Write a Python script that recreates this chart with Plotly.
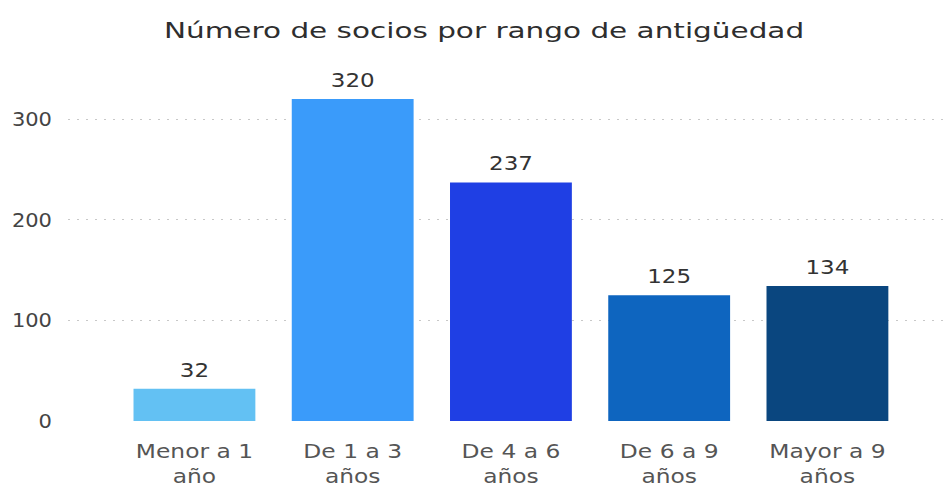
import plotly.graph_objects as go

categories = ["Menor a 1<br>año", "De 1 a 3<br>años", "De 4 a 6<br>años", "De 6 a 9<br>años", "Mayor a 9<br>años"]
socios = [32, 320, 237, 125, 134]
bar_colors = ["#63C1F3", "#3A9BFA", "#1F3FE4", "#0E65BF", "#0A467F"]
y_ticks = [0, 100, 200, 300]

FONT = "DejaVu Sans, sans-serif"

fig = go.Figure(
    go.Bar(
        x=list(range(len(categories))),
        y=socios,
        marker=dict(color=bar_colors, line=dict(width=0)),
        width=0.77,
        text=[str(v) for v in socios],
        textposition="outside",
        textfont=dict(family=FONT, size=20, color="#333333"),
        cliponaxis=False,
    )
)

fig.update_layout(
    width=945,
    height=486,
    paper_bgcolor="white",
    plot_bgcolor="white",
    margin=dict(l=68, r=0, t=70, b=65),
    showlegend=False,
    title=dict(
        text="Número de socios por rango de antigüedad",
        x=0.5122,
        xanchor="center",
        y=0.937,
        yanchor="middle",
        font=dict(family=FONT, size=22, color="#2E2E2E"),
    ),
    xaxis=dict(
        range=[-0.799, 4.743],
        tickmode="array",
        tickvals=list(range(len(categories))),
        ticktext=categories,
        showgrid=False,
        zeroline=False,
        showline=False,
        ticks="",
        ticklabelstandoff=17,
        tickfont=dict(family=FONT, size=19, color="#555555"),
    ),
    yaxis=dict(
        range=[0, 348.7],
        tickvals=y_ticks,
        showgrid=True,
        gridcolor="#C8C8C8",
        griddash="2px,7px",
        gridwidth=1,
        zeroline=False,
        showline=False,
        ticks="",
        ticklabelstandoff=15,
        tickfont=dict(family=FONT, size=20, color="#444444"),
    ),
)

# Stretch the lettering horizontally (glyphs and spacing together)
# and lift the value labels a little further above their bars
stretch_js = """
var gd = document.getElementById('{plot_id}');
function stretch(sel, factor) {
  gd.querySelectorAll(sel).forEach(function (t) {
    var parts = t.querySelectorAll('tspan.line');
    if (!parts.length) { parts = [t]; }
    parts.forEach(function (p) {
      var w = p.getComputedTextLength();
      p.setAttribute('lengthAdjust', 'spacingAndGlyphs');
      p.setAttribute('textLength', (w * factor).toFixed(1));
    });
  });
}
stretch('.gtitle', 1.34);
stretch('.xtick text', 1.23);
stretch('.ytick text', 1.05);
stretch('.bartext', 1.15);
gd.querySelectorAll('.bartext').forEach(function (t) {
  var y = parseFloat(t.getAttribute('y') || '0');
  t.setAttribute('y', (y - 4).toFixed(1));
});
"""

fig.write_html("out.html", post_script=stretch_js)
